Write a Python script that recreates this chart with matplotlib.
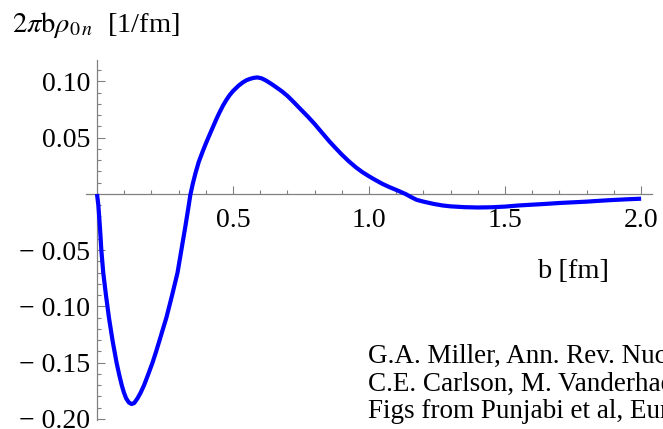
import numpy as np
import matplotlib
matplotlib.use("Agg")
import matplotlib.pyplot as plt

# curve: impact parameter b [fm] vs 2*pi*b*rho_0n [1/fm]
b = [0, 0.005, 0.011, 0.016, 0.023, 0.033, 0.044, 0.057, 0.072, 0.082, 0.091,
     0.099, 0.107, 0.117, 0.127, 0.137, 0.149, 0.160, 0.173, 0.188, 0.204,
     0.217, 0.230, 0.243, 0.255, 0.276, 0.296, 0.310, 0.324, 0.336, 0.343,
     0.352, 0.362, 0.374, 0.388, 0.40, 0.413, 0.427, 0.44, 0.451, 0.463, 0.476, 0.488,
     0.50, 0.52, 0.536, 0.55, 0.566, 0.578, 0.59, 0.605, 0.621, 0.64, 0.658,
     0.68, 0.70, 0.725, 0.749, 0.775, 0.80, 0.827, 0.854, 0.877, 0.90, 0.925,
     0.951, 0.975, 1.0, 1.025, 1.049, 1.075, 1.1, 1.134, 1.155, 1.175, 1.2,
     1.237, 1.27, 1.3, 1.35, 1.4, 1.45, 1.5, 1.55, 1.6, 1.65, 1.7, 1.75, 1.8,
     1.85, 1.9, 1.95, 2.0]
rho = [0, -0.01, -0.03, -0.05, -0.07, -0.09, -0.11, -0.13, -0.15, -0.161, -0.17,
       -0.1765, -0.1816, -0.1853, -0.1867, -0.1858, -0.1816, -0.1768, -0.17, -0.1605, -0.15,
       -0.1403, -0.13, -0.1195, -0.11, -0.09, -0.07, -0.05, -0.03, -0.012, -0.001,
       0.009, 0.0185, 0.0285, 0.0375, 0.0448, 0.0522, 0.0600, 0.0672, 0.0728, 0.0785, 0.0838, 0.0880,
       0.0915, 0.0962, 0.0992, 0.1012, 0.1026, 0.1033, 0.1036, 0.1028, 0.1009, 0.098, 0.095,
       0.0912, 0.0872, 0.0812, 0.0752, 0.0688, 0.0622, 0.0545, 0.0468, 0.0408, 0.0350, 0.0292,
       0.0238, 0.0195, 0.0157, 0.0122, 0.0090, 0.0061, 0.0036, 0, -0.0028, -0.0052, -0.0068,
       -0.0088, -0.0102, -0.011, -0.0117, -0.012, -0.0118, -0.0112, -0.0102, -0.0095, -0.0088, -0.008, -0.0074, -0.0068,
       -0.006, -0.0053, -0.0047, -0.0042]

x_major = [0.5, 1.0, 1.5, 2.0]
x_labels = ["0.5", "1.0", "1.5", "2.0"]
y_major = [0.10, 0.05, -0.05, -0.10, -0.15, -0.20]
y_labels = ["0.10", "0.05", "\u2212 0.05", "\u2212 0.10", "\u2212 0.15", "\u2212 0.20"]

refs = ["G.A. Miller, Ann. Rev. Nuc",
        "C.E. Carlson, M. Vanderhae",
        "Figs from Punjabi et al, Eur"]

plt.rcParams['font.family'] = ['Liberation Serif', 'DejaVu Serif']
plt.rcParams['mathtext.fontset'] = 'stix'

W, H = 663, 429
fig = plt.figure(figsize=(W / 100, H / 100), dpi=100)
ax = fig.add_axes([86 / W, 1 - 420 / H, (652 - 86) / W, (420 - 60) / H])

ax.plot(b, rho, color='#0000ff', lw=3, solid_capstyle='butt', solid_joinstyle='round', zorder=3)

ax.set_xlim(-0.0404, 2.040)
ax.set_ylim(-0.2009, 0.1191)

for s in ['top', 'right']:
    ax.spines[s].set_visible(False)
for s in ['left', 'bottom']:
    ax.spines[s].set_position(('data', 0))
    ax.spines[s].set_color('#808080')
    ax.spines[s].set_linewidth(0.9)

ax.set_xticks(x_major)
ax.set_xticklabels(x_labels)
ax.set_xticks([v / 10 for v in range(1, 20) if v % 5], minor=True)
ax.set_yticks(y_major)
ax.set_yticklabels(y_labels)
ax.set_yticks([v / 100 for v in range(-19, 12) if v % 5], minor=True)

ax.tick_params(which='both', direction='in', color='#808080', width=0.8, labelsize=20)
ax.tick_params(which='major', length=5.5)
ax.tick_params(which='minor', length=3)
ax.tick_params(axis='x', pad=10)
ax.tick_params(axis='y', pad=5)

fig.text(12 / W, 1 - 25 / H, r"$2\pi\mathrm{b}\rho_{0\,n}$  [1/fm]", fontsize=20.5, va='center', ha='left')
fig.text(537 / W, 1 - 271 / H, "b [fm]", fontsize=20.5, va='center', ha='left')

for i, t in enumerate(refs):
    fig.text(368 / W, 1 - (363 + 27.5 * i) / H, t, fontsize=19.5, va='baseline', ha='left')

fig.savefig("out.png", dpi=100)
